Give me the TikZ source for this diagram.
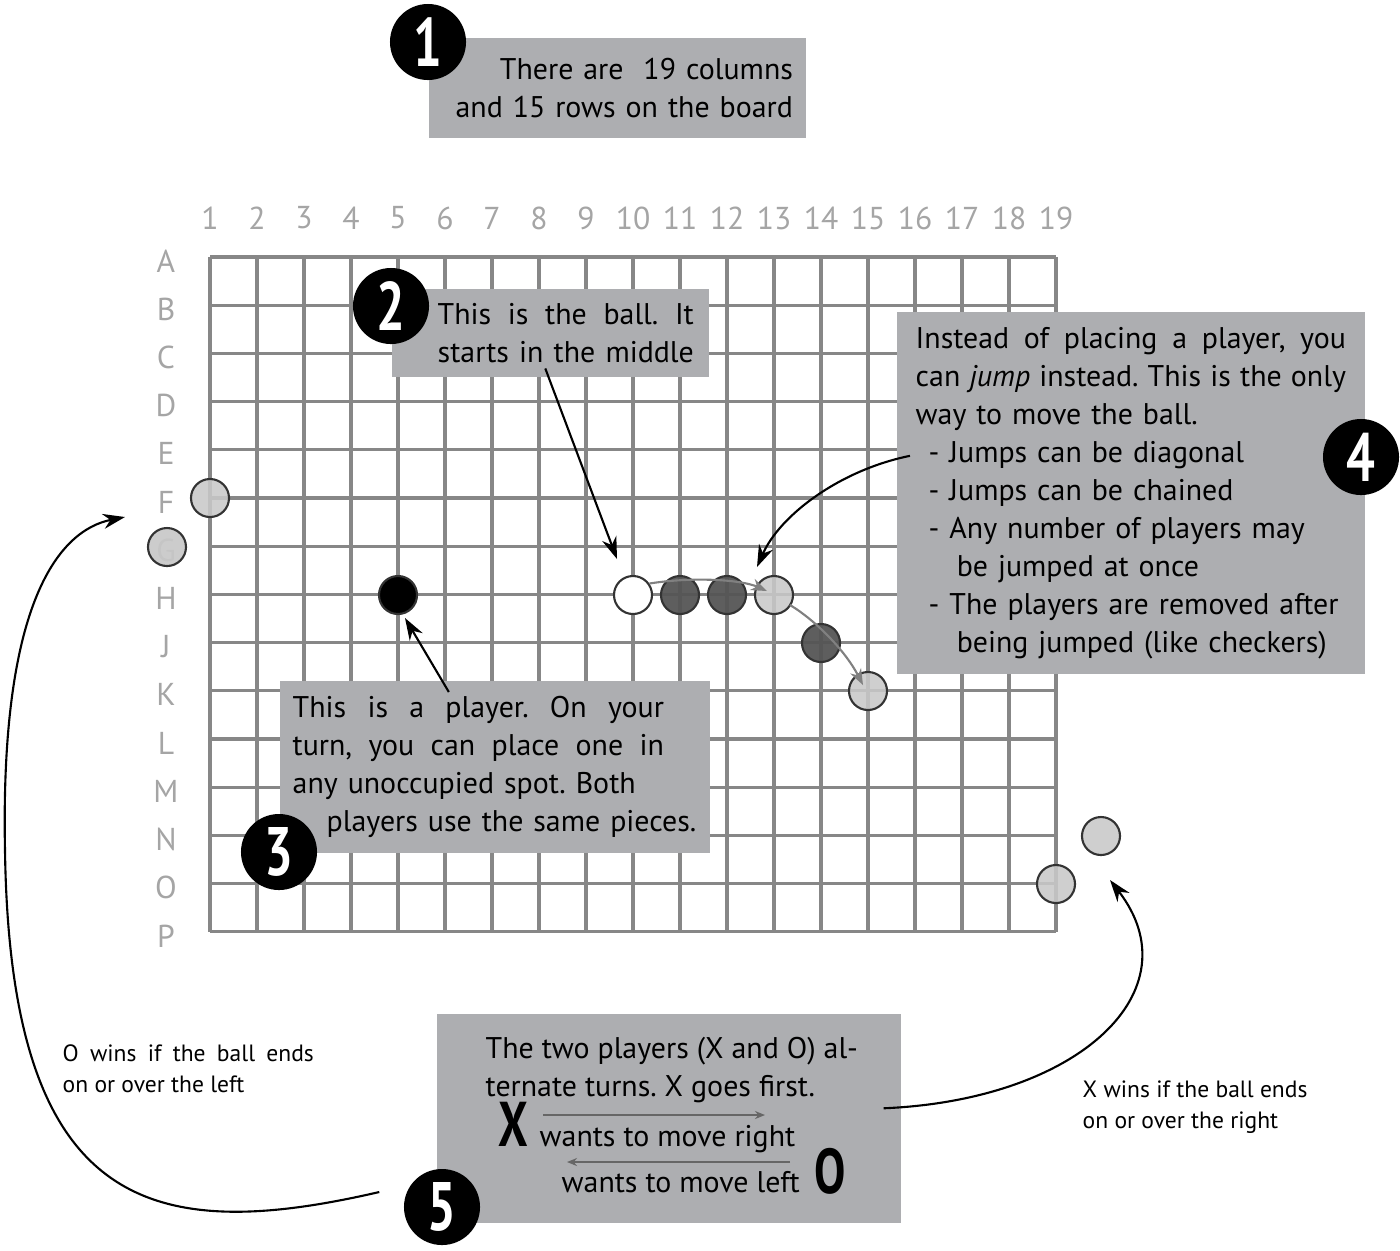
\documentclass[tikz,border=0pt]{standalone}
\usepackage{fontspec}
\setmainfont{PT Sans}
\usepackage{graphicx}
\usepackage{tikz}
\usetikzlibrary{arrows.meta}

\definecolor{boxgray}{RGB}{173,174,177}
\definecolor{gridgray}{RGB}{135,135,135}
\definecolor{labelgray}{RGB}{165,165,165}
\definecolor{lightpiece}{RGB}{200,200,200}
\definecolor{darkpiece}{RGB}{85,85,85}
\newcommand{\narrow}[1]{\scalebox{0.74}[1]{#1}}
\newcommand{\spreadline}[2]{\leavevmode\hbox to #1{\spaceskip=0.25em plus 1fil\relax #2}}
\frenchspacing

\begin{document}
\begin{tikzpicture}[x=0.01cm, y=-0.01cm,
    every node/.append style={font=\fontsize{8.5}{10.8}\selectfont},
    gridline/.style={draw=gridgray, line width=0.9pt},
    collabel/.style={text=labelgray, font=\fontsize{9}{9}\selectfont, inner sep=0pt},
    piece/.style={circle, minimum size=0.38cm, inner sep=0pt, draw=black!80, line width=0.6pt},
    oldpiece/.style={piece, fill=lightpiece, fill opacity=0.88},
    jumped/.style={piece, fill=darkpiece, fill opacity=0.95},
    numdot/.style={circle, fill=black, minimum size=0.76cm, inner sep=0pt, text=white,
        font=\fontsize{19.5}{19.5}\bfseries\selectfont},
    infobox/.style={fill=boxgray, inner ysep=0pt, anchor=north west},
    callout/.style={->, >={Stealth[length=2.2mm,width=1.5mm]}, line width=0.6pt},
    jumppath/.style={->, >={Stealth[length=1.6mm,width=1.2mm]}, draw=gray, line width=0.6pt},
    smallarrow/.style={->, >={Stealth[length=1mm,width=0.8mm]}, draw=black!60, line width=0.5pt}]
  \tikzstyle{sidenote} = [font=\fontsize{6.7}{8.8}\selectfont, align=left, inner sep=0pt, anchor=north west]
  \tikzstyle{boxline} = [inner sep=0pt, anchor=base west]
  \useasboundingbox (0,0) rectangle (1400,1250);

  \foreach \c in {0,...,18}
    \draw[gridline] ({210+47*\c},257) -- ({210+47*\c},932);
  \foreach \r in {0,...,14}
    \draw[gridline] (210,{257+48.2*\r}) -- (1056,{257+48.2*\r});
  \foreach \c in {1,...,19}
    \node[collabel] (col\c) at ({210+47*(\c-1)},218) {\c};
  \foreach \r [count=\i from 0] in {A,B,C,D,E,F,G,H,J,K,L,M,N,O,P}
    \node[collabel] (row\r) at (166,{261+48.2*\i}) {\r};

  \node[oldpiece] (pF1) at (210,498) {};
  \node[oldpiece, fill opacity=0.93] (pG0) at (167,547) {};
  \node[piece, fill=black] (pH5) at (398,595) {};
  \node[piece, fill=white] (ball) at (633,595) {};
  \node[jumped] (pH11) at (680,595) {};
  \node[jumped] (pH12) at (727,595) {};
  \node[oldpiece] (pH13) at (774,595) {};
  \node[jumped] (pJ14) at (821,643) {};
  \node[oldpiece] (pK15) at (868,691) {};
  \node[oldpiece] (pO19) at (1056,884) {};
  \node[oldpiece] (pout) at (1101,836) {};

  \draw[jumppath] (ball.35) .. controls (690,577) and (740,579) .. ([shift={(-7,-4)}]pH13.center);
  \draw[jumppath] ([shift={(16,10)}]pH13.center) .. controls (815,620) and (845,650) .. ([shift={(-5,-6)}]pK15.center);

  \node[infobox, minimum width=3.77cm, minimum height=1.0cm, inner xsep=0.13cm,
    text width=3.51cm, align=right] (box1) at (428,37)
    {There are\ \ 19 columns\\and 15 rows on the board};
  \node[infobox, minimum width=3.17cm, minimum height=0.88cm, inner xsep=0.15cm,
    text width=2.87cm, align=right] (box2) at (391,288)
    {\spreadline{2.56cm}{This is the ball. It}\\\spreadline{2.56cm}{starts in the middle}};
  \node[infobox, minimum width=4.30cm, minimum height=1.72cm, inner xsep=0.13cm,
    text width=4.04cm, align=left] (box3) at (279,680)
    {\spreadline{3.71cm}{This is a player. On your}\\
     \spreadline{3.71cm}{turn, you can place one in}\\
     any unoccupied spot. Both\\
     \hspace*{0.34cm}players use the same pieces.};
  \node[infobox, minimum width=4.68cm, minimum height=3.62cm, inner xsep=0.19cm,
    text width=4.30cm, align=left] (box4) at (896,311)
    {\spreadline{4.30cm}{Instead of placing a player, you}\\
     \spreadline{4.30cm}{can \emph{jump} instead. This is the only}\\
     way to move the ball.\\
     \hspace*{0.13cm}- Jumps can be diagonal\\
     \hspace*{0.13cm}- Jumps can be chained\\
     \hspace*{0.13cm}- Any number of players may\\
     \hspace*{0.41cm}be jumped at once\\
     \hspace*{0.13cm}- The players are removed after\\
     \hspace*{0.41cm}being jumped (like checkers)};
  \node[infobox, minimum width=4.64cm, minimum height=2.09cm] (box5) at (436,1013) {};

  \node[boxline] (turns1) at (485,1058) {The two players (X and O) al-};
  \node[boxline] (turns2) at (485,1096) {ternate turns. X goes first.};
  \node[boxline] (wright) at (539,1146) {wants to move right};
  \node[boxline] (wleft) at (561,1192) {wants to move left};
  \node[boxline, font=\fontsize{18}{18}\bfseries\selectfont] (bigX) at (498,1146) {\narrow{X}};
  \node[boxline, font=\fontsize{18}{18}\bfseries\selectfont] (bigO) at (814,1193) {\narrow{O}};
  \coordinate (rstart) at (543,1115);
  \coordinate (rend) at (765,1115);
  \coordinate (lstart) at (790,1162);
  \coordinate (lend) at (567,1162);
  \draw[smallarrow] (rstart) -- (rend);
  \draw[smallarrow] (lstart) -- (lend);

  \node[numdot] (n1) at (428,42) {\narrow{1}};
  \node[numdot] (n2) at (391,306) {\narrow{2}};
  \node[numdot] (n3) at (279,852) {\narrow{3}};
  \node[numdot] (n4) at (1361,457) {\narrow{4}};
  \node[numdot] (n5) at (442,1207) {\narrow{5}};

  \draw[callout] ([shift={(-5,-9)}]box2.south) -- ([shift={(-16,-36)}]ball.center);
  \draw[callout] ([shift={(-46,12)}]box3.north) -- ([shift={(7,23)}]pH5.center);
  \draw[callout] ([shift={(14,-37)}]box4.west) .. controls (840,470) and (780,515) .. ([shift={(-17,-28)}]pH13.center);

  \coordinate (leftgoal) at (125,517);
  \coordinate (rightgoal) at (1110,880);
  \draw[callout] ([shift={(-24,-15)}]n5.west) .. controls (150,1245) and (10,1210) .. (5,850)
    .. controls (0,600) and (60,530) .. (leftgoal);
  \draw[callout] ([shift={(-18,-10)}]box5.east) .. controls (1080,1100) and (1195,990) .. (rightgoal);

  \node[sidenote] (owins) at (62,1044) {\spreadline{2.51cm}{O wins if the ball ends}\\on or over the left};
  \node[sidenote] (xwins) at (1082,1080) {X wins if the ball ends\\on or over the right};
\end{tikzpicture}
\end{document}
